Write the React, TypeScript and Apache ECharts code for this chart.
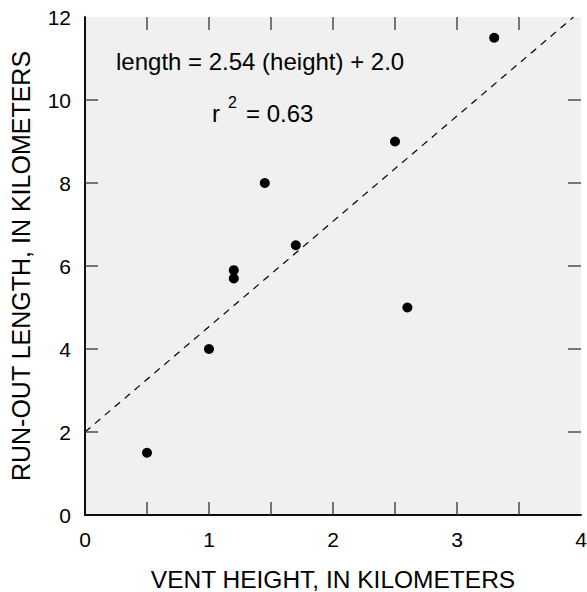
import React, { useEffect, useRef } from "react";
import * as echarts from "echarts";

const ventHeight = [0.5, 1.0, 1.2, 1.2, 1.45, 1.7, 2.5, 2.6, 3.3];
const runOutLength = [1.5, 4.0, 5.9, 5.7, 8.0, 6.5, 9.0, 5.0, 11.5];
const fitLine: [number, number][] = [
  [0, 2.0],
  [3.94, 12.0],
];
const xTicks = [0, 1, 2, 3, 4];
const yTicks = [0, 2, 4, 6, 8, 10, 12];
const xTickMarks = [0.5, 1, 1.5, 2, 2.5, 3, 3.5];
const yTickMarks = [2, 4, 6, 8, 10];

const FONT = "Liberation Sans, Arial, Helvetica, sans-serif";

export default function App() {
  const ref = useRef<HTMLDivElement>(null);
  useEffect(() => {
    document.body.style.margin = "0";
    const chart = echarts.init(ref.current!, null, { renderer: "svg" });
    const grid = { left: 85, top: 17, width: 496, height: 498 };
    const axisLine = { show: true, lineStyle: { color: "#000", width: 1.5 } };
    const TL = 13;
    const tickLine = { stroke: "#333", lineWidth: 1.3 };
    const tickData = [
      ...xTickMarks.map((v) => [0, v]),
      ...yTickMarks.map((v) => [1, v]),
    ];
    chart.setOption({
      animation: false,
      backgroundColor: "#fff",
      grid: {
        ...grid,
        backgroundColor: "#f0f0f0",
        show: true,
        borderWidth: 0,
        containLabel: false,
        outerBoundsMode: "none",
      },
      xAxis: [
        {
          type: "value",
          min: 0,
          max: 4,
          interval: 0.5,
          position: "bottom",
          axisLine,
          axisTick: { show: false },
          splitLine: { show: false },
          axisLabel: {
            margin: 14,
            fontSize: 21,
            fontFamily: FONT,
            color: "#000",
            formatter: (v: number) => (xTicks.includes(v) ? String(v) : ""),
          },
          name: "VENT HEIGHT, IN KILOMETERS",
          nameLocation: "middle",
          nameGap: 52,
          nameTextStyle: { fontSize: 24.5, fontFamily: FONT, color: "#000" },
        },
        {
          type: "value",
          min: 0,
          max: 4,
          interval: 0.5,
          position: "top",
          axisLine,
          axisTick: { show: false },
          splitLine: { show: false },
          axisLabel: { show: false },
        },
      ],
      yAxis: [
        {
          type: "value",
          min: 0,
          max: 12,
          interval: 2,
          position: "left",
          axisLine,
          axisTick: { show: false },
          splitLine: { show: false },
          axisLabel: {
            margin: 14,
            fontSize: 21,
            fontFamily: FONT,
            color: "#000",
            formatter: (v: number) => (yTicks.includes(v) ? String(v) : ""),
          },
          name: "RUN-OUT LENGTH, IN KILOMETERS",
          nameLocation: "middle",
          nameGap: 52,
          nameTextStyle: { fontSize: 25, fontFamily: FONT, color: "#000" },
        },
        {
          type: "value",
          min: 0,
          max: 12,
          interval: 2,
          position: "right",
          axisLine,
          axisTick: { show: false },
          splitLine: { show: false },
          axisLabel: { show: false },
        },
      ],
      series: [
        {
          type: "custom",
          data: tickData,
          silent: true,
          clip: false,
          z: 5,
          renderItem: (_params: any, api: any) => {
            const kind = api.value(0);
            const v = api.value(1);
            if (kind === 0) {
              const b = api.coord([v, 0]);
              const t = api.coord([v, 12]);
              return {
                type: "group",
                children: [
                  { type: "line", shape: { x1: b[0], y1: b[1], x2: b[0], y2: b[1] - TL }, style: tickLine },
                  { type: "line", shape: { x1: t[0], y1: t[1], x2: t[0], y2: t[1] + TL }, style: tickLine },
                ],
              };
            }
            const l = api.coord([0, v]);
            const r = api.coord([4, v]);
            return {
              type: "group",
              children: [
                { type: "line", shape: { x1: l[0], y1: l[1], x2: l[0] + TL, y2: l[1] }, style: tickLine },
                { type: "line", shape: { x1: r[0], y1: r[1], x2: r[0] - TL, y2: r[1] }, style: tickLine },
              ],
            };
          },
        },
        {
          type: "line",
          data: fitLine,
          showSymbol: false,
          symbol: "none",
          lineStyle: { color: "#000", width: 1.2, type: [7, 6] },
          silent: true,
          z: 1,
        },
        {
          type: "scatter",
          data: ventHeight.map((x, i) => [x, runOutLength[i]]),
          symbol: "circle",
          symbolSize: 10,
          itemStyle: { color: "#000", opacity: 1 },
          z: 2,
        },
      ],
      graphic: [
        {
          type: "text",
          style: {
            text: "length = 2.54 (height) + 2.0",
            x: 116,
            y: 61,
            font: `24px ${FONT}`,
            fill: "#000",
            align: "left",
            verticalAlign: "middle",
          },
        },
        {
          type: "text",
          style: {
            text: "r",
            x: 212,
            y: 113,
            font: `24px ${FONT}`,
            fill: "#000",
            align: "left",
            verticalAlign: "middle",
          },
        },
        {
          type: "text",
          style: {
            text: "2",
            x: 228,
            y: 102,
            font: `16px ${FONT}`,
            fill: "#000",
            align: "left",
            verticalAlign: "middle",
          },
        },
        {
          type: "text",
          style: {
            text: "= 0.63",
            x: 246,
            y: 113,
            font: `24px ${FONT}`,
            fill: "#000",
            align: "left",
            verticalAlign: "middle",
          },
        },
      ],
    });
    return () => chart.dispose();
  }, []);
  return <div ref={ref} style={{ width: 587, height: 592 }} />;
}
